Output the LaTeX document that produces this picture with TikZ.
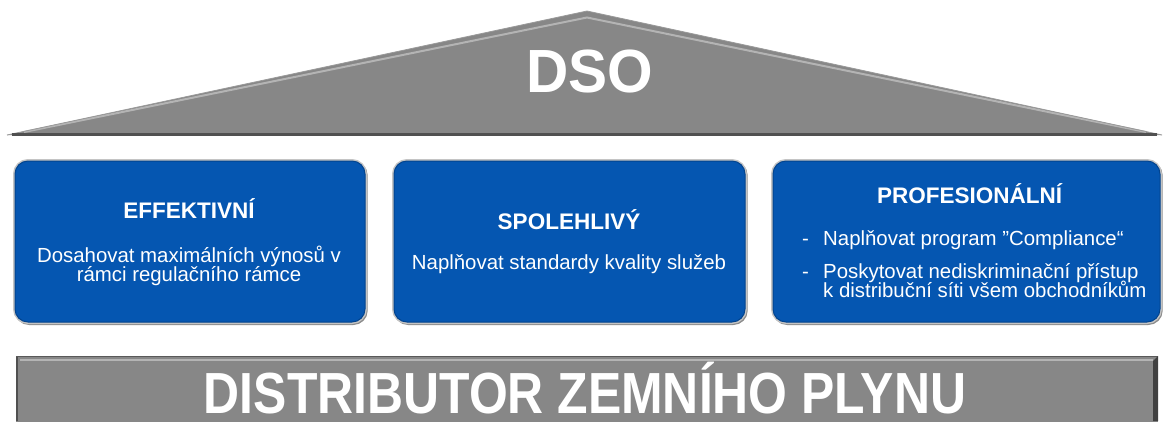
\documentclass[tikz,border=0pt]{standalone}
\usepackage{fontspec}
\usepackage{graphicx}
\setmainfont{Liberation Sans}
\definecolor{roofgray}{HTML}{878787}
\definecolor{rooflight}{HTML}{B4B4B4}
\definecolor{roofdark}{HTML}{505050}
\definecolor{boxblue}{HTML}{0556B1}
\definecolor{boxedge}{HTML}{03448E}
\definecolor{boxrim}{HTML}{C4C4C4}
\definecolor{boxshadow}{HTML}{8C8C8C}
\begin{document}
\begin{tikzpicture}[x=1pt,y=-1pt,
  bluebox/.style={draw=boxedge, line width=1pt, fill=boxblue, rounded corners=13pt, inner sep=0pt,
    preaction={draw=boxshadow, line width=3pt, transform canvas={shift={(1.2pt,-1.5pt)}}},
    preaction={draw=boxrim, line width=4pt}},
  boxtitle/.style={anchor=base, inner sep=0pt, text=white, font=\fontsize{22.5}{26}\selectfont\bfseries},
  boxbody/.style={anchor=base, inner sep=0pt, text=white, font=\fontsize{20.4}{24}\selectfont},
  bodyleft/.style={boxbody, anchor=base west},
  bigtext/.style={anchor=base, inner sep=0pt, text=white, font=\fontsize{61}{70}\selectfont\bfseries}]
\useasboundingbox (0,0) rectangle (1165,421);
\fill[white] (0,0) rectangle (1165,421);
% roof
\fill[roofgray] (7,135) -- (587,11) -- (1162,135) -- cycle;
\draw[rooflight, line width=2pt, line join=miter] (24,132) -- (587,17.5) -- (1146,132);
\draw[gray!80, line width=0.8pt, line join=miter] (7,135) -- (587,11) -- (1162,135);
\draw[roofdark, line width=2.5pt] (12,134.5) -- (1157,134.5);
\node[bigtext] (dso) at (589.5,92) {\scalebox{0.96}[1]{DSO}};
% pillars
\node[bluebox, minimum width=350pt, minimum height=161pt] (b1) at (190,241.5) {};
\node[bluebox, minimum width=351pt, minimum height=161pt] (b2) at (569.5,241.5) {};
\node[bluebox, minimum width=387pt, minimum height=161pt] (b3) at (966.5,241.5) {};
\node[boxtitle] (t1) at (189,218) {EFFEKTIVNÍ};
\node[boxbody] (t1a) at (189,262) {Dosahovat maximálních výnosů v};
\node[boxbody] (t1b) at (189,281) {rámci regulačního rámce};
\node[boxtitle] (t2) at (569,229) {SPOLEHLIVÝ};
\node[boxbody] (t2a) at (569,269) {Naplňovat standardy kvality služeb};
\node[boxtitle] (t3) at (969.5,203) {PROFESIONÁLNÍ};
\node[bodyleft] (d3a) at (802,245) {-};
\node[bodyleft] (t3a) at (823,245) {Naplňovat program ”Compliance“};
\node[bodyleft] (d3b) at (802,278) {-};
\node[bodyleft] (t3b) at (823,278) {Poskytovat nediskriminační přístup};
\node[bodyleft] (t3c) at (823,297) {k distribuční síti všem obchodníkům};
% base
\fill[roofgray] (16,356) rectangle (1158,430);
\draw[gray!70!black, line width=1pt] (16,356.5) -- (1158,356.5);
\draw[rooflight, line width=2pt] (20,360) -- (1153,360);
\draw[roofdark, line width=1.5pt] (17,357) -- (17,421);
\fill[black!75] (1153,361) -- (1158,356) -- (1158,421) -- (1153,421) -- cycle;
\node[bigtext, font=\fontsize{58}{64}\selectfont\bfseries] (dzp) at (585,413) {\scalebox{0.86}[1]{DISTRIBUTOR ZEMNÍHO PLYNU}};
\end{tikzpicture}
\end{document}
